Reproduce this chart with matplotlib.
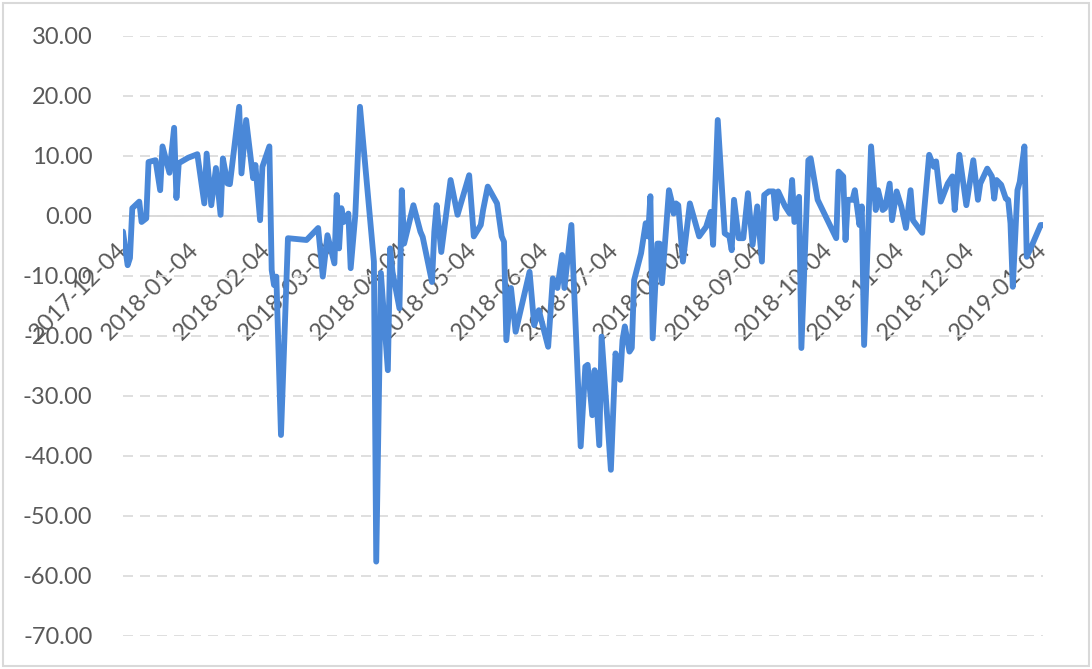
import matplotlib
matplotlib.use('Agg')
import matplotlib.pyplot as plt
import matplotlib.ticker as mticker
from matplotlib.patches import Rectangle
import pandas as pd

# series
dates = [
    '2017-12-04', '2017-12-05', '2017-12-06', '2017-12-07', '2017-12-08', '2017-12-11',
    '2017-12-12', '2017-12-14', '2017-12-15', '2017-12-18', '2017-12-20', '2017-12-21',
    '2017-12-24', '2017-12-26', '2017-12-27', '2017-12-28', '2018-01-01', '2018-01-05',
    '2018-01-08', '2018-01-09', '2018-01-11', '2018-01-13', '2018-01-15', '2018-01-16',
    '2018-01-18', '2018-01-19', '2018-01-23', '2018-01-24', '2018-01-26', '2018-01-29',
    '2018-01-30', '2018-02-01', '2018-02-02', '2018-02-05', '2018-02-06', '2018-02-07',
    '2018-02-08', '2018-02-10', '2018-02-13', '2018-02-21', '2018-02-26', '2018-02-28',
    '2018-03-02', '2018-03-05', '2018-03-06', '2018-03-07', '2018-03-08', '2018-03-09',
    '2018-03-11', '2018-03-12', '2018-03-14', '2018-03-16', '2018-03-22', '2018-03-23',
    '2018-03-25', '2018-03-28', '2018-03-29', '2018-03-30', '2018-04-02', '2018-04-03',
    '2018-04-04', '2018-04-08', '2018-04-11', '2018-04-12', '2018-04-16', '2018-04-17',
    '2018-04-18', '2018-04-20', '2018-04-24', '2018-04-27', '2018-05-02', '2018-05-04',
    '2018-05-07', '2018-05-08', '2018-05-10', '2018-05-14', '2018-05-16', '2018-05-17',
    '2018-05-18', '2018-05-20', '2018-05-22', '2018-05-28', '2018-05-30', '2018-06-01',
    '2018-06-05', '2018-06-07', '2018-06-09', '2018-06-11', '2018-06-12', '2018-06-15',
    '2018-06-19', '2018-06-21', '2018-06-22', '2018-06-24', '2018-06-25', '2018-06-27',
    '2018-06-28', '2018-07-02', '2018-07-04', '2018-07-06', '2018-07-07', '2018-07-08',
    '2018-07-10', '2018-07-11', '2018-07-12', '2018-07-15', '2018-07-17', '2018-07-18',
    '2018-07-19', '2018-07-20', '2018-07-22', '2018-07-23', '2018-07-24', '2018-07-27',
    '2018-07-28', '2018-07-29', '2018-07-30', '2018-07-31', '2018-08-02', '2018-08-05',
    '2018-08-09', '2018-08-12', '2018-08-14', '2018-08-15', '2018-08-17', '2018-08-20',
    '2018-08-22', '2018-08-23', '2018-08-24', '2018-08-26', '2018-08-28', '2018-08-30',
    '2018-09-01', '2018-09-03', '2018-09-05', '2018-09-06', '2018-09-08', '2018-09-10',
    '2018-09-11', '2018-09-12', '2018-09-15', '2018-09-17', '2018-09-18', '2018-09-19',
    '2018-09-21', '2018-09-22', '2018-09-25', '2018-09-26', '2018-09-29', '2018-10-07',
    '2018-10-08', '2018-10-10', '2018-10-11', '2018-10-12', '2018-10-14', '2018-10-15',
    '2018-10-17', '2018-10-18', '2018-10-19', '2018-10-22', '2018-10-24', '2018-10-25',
    '2018-10-27', '2018-10-28', '2018-10-30', '2018-10-31', '2018-11-02', '2018-11-04',
    '2018-11-06', '2018-11-08', '2018-11-09', '2018-11-13', '2018-11-16', '2018-11-18',
    '2018-11-19', '2018-11-21', '2018-11-24', '2018-11-26', '2018-11-27', '2018-11-29',
    '2018-12-02', '2018-12-05', '2018-12-07', '2018-12-08', '2018-12-11', '2018-12-13',
    '2018-12-14', '2018-12-15', '2018-12-17', '2018-12-19', '2018-12-20', '2018-12-21',
    '2018-12-22', '2018-12-24', '2018-12-25', '2018-12-27', '2018-12-28', '2018-12-30',
    '2019-01-03', '2019-01-04',
]
values = [
    -2.6, -5.5, -8.2, -7.0, 1.3, 2.4,
    -1.0, -0.4, 9.0, 9.3, 4.3, 11.6,
    7.2, 14.7, 3.0, 8.8, 9.7, 10.3,
    2.1, 10.4, 1.8, 8.0, 0.2, 9.6,
    5.4, 5.3, 18.2, 7.1, 16.0, 6.3,
    8.5, -0.7, 8.2, 11.6, -9.0, -11.5,
    -10.1, -36.5, -3.7, -4.0, -2.0, -10.1,
    -3.2, -7.9, 3.5, -5.4, 1.3, -1.0,
    0.4, -8.7, 0.2, 18.2, -7.6, -57.6,
    -9.5, -25.7, -5.4, -9.3, -15.4, 4.3,
    -4.6, 1.8, -2.6, -3.5, -11.0, -2.6,
    1.8, -6.0, 6.0, 0.2, 6.8, -3.4,
    -1.5, 1.0, 4.9, 2.1, -3.4, -4.3,
    -20.7, -12.0, -19.3, -9.3, -18.2, -15.7,
    -21.8, -10.4, -12.0, -6.5, -12.0, -1.5,
    -38.4, -25.1, -24.8, -33.2, -25.7, -38.2,
    -20.1, -42.3, -22.9, -27.3, -20.7, -18.4,
    -22.6, -22.0, -10.7, -6.2, -1.2, -3.4,
    3.3, -20.4, -4.6, -4.6, -11.2, 4.3,
    2.7, 0.4, 2.1, 1.8, -7.6, 2.1,
    -3.4, -1.8, 0.7, -4.8, 16.0, -2.9,
    -3.4, -5.7, 2.7, -3.7, -3.7, 3.8,
    -4.8, 1.6, -7.6, 3.5, 4.1, 4.1,
    -0.4, 4.1, 1.6, 0.4, 6.0, -1.0,
    3.2, -22.0, 9.3, 9.6, 2.7, -3.7,
    7.4, 6.6, -4.0, 2.7, 2.7, 4.3,
    -1.5, 1.6, -21.5, 11.6, 1.0, 4.3,
    1.0, 1.3, 5.4, -0.7, 4.1, 1.6,
    -2.0, 4.3, -0.7, -2.8, 10.2, 8.2,
    9.1, 2.4, 5.4, 6.6, 1.0, 10.2,
    1.8, 9.3, 2.7, 5.4, 7.9, 6.6,
    2.9, 6.0, 5.2, 2.9, 2.7, -1.2,
    -11.8, 4.3, 5.7, 11.6, -6.8, -5.1,
    -1.5, -1.5,
]
tick_dates = ['2017-12-04', '2018-01-04', '2018-02-04', '2018-03-04', '2018-04-04',
              '2018-05-04', '2018-06-04', '2018-07-04', '2018-08-04', '2018-09-04',
              '2018-10-04', '2018-11-04', '2018-12-04', '2019-01-04']
y_ticks = [-70, -60, -50, -40, -30, -20, -10, 0, 10, 20, 30]

plt.rcParams['font.family'] = ['Lato', 'DejaVu Sans']
text_color = '#595959'
grid_color = '#D9D9D9'

x = pd.to_datetime(dates)
fig = plt.figure(figsize=(10.92, 6.69), dpi=100)
ax = fig.add_axes([123 / 1092, 33 / 669, 920 / 1092, 600 / 669])

ax.plot(x, values, color='#4A88D8', lw=4.2, solid_joinstyle='round',
        solid_capstyle='round', zorder=3)

ax.set_ylim(-70, 30)
ax.set_yticks(y_ticks)
ax.yaxis.set_major_formatter(mticker.FuncFormatter(lambda v, p: f'{v:.2f}'))
ax.set_xlim(x[0], x[-1])
ax.set_xticks(pd.to_datetime(tick_dates))
ax.set_xticklabels(tick_dates)

ax.yaxis.grid(True, color=grid_color, lw=1.2, linestyle=(0, (6, 4.2)))
ax.set_axisbelow(True)
for side in ['top', 'right', 'left']:
    ax.spines[side].set_visible(False)
ax.spines['bottom'].set_position(('data', 0))
ax.spines['bottom'].set_color(grid_color)
ax.spines['bottom'].set_linewidth(1.4)
ax.spines['bottom'].set_zorder(2)

ax.tick_params(axis='both', length=0, labelsize=17, colors=text_color)
ax.tick_params(axis='y', pad=22)
ax.tick_params(axis='x', pad=22)

for lab in ax.get_xticklabels():
    lab.set_rotation(45)
    lab.set_rotation_mode('anchor')
    lab.set_ha('right')
    lab.set_va('center')

fig.patches.append(Rectangle((0.003, 0.004), 0.994, 0.992, transform=fig.transFigure,
                             fill=False, ec=grid_color, lw=1.5))

fig.savefig('out.png', dpi=100)
